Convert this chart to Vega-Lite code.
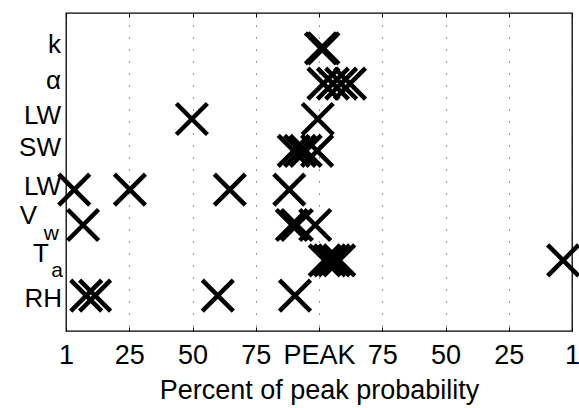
{
  "$schema": "https://vega.github.io/schema/vega-lite/v6.json",
  "width": 506,
  "height": 318,
  "autosize": "none",
  "padding": {"left": 66, "top": 13, "right": 7, "bottom": 77},
  "background": "white",
  "config": {"view": {"stroke": "black", "strokeWidth": 1.3}, "font": "Liberation Sans"},
  "datasets": {
    "points": [
      {"variable": "k", "row": 8, "pos": 4.03},
      {"variable": "k", "row": 8, "pos": 4.07},
      {"variable": "alpha", "row": 7, "pos": 4.07},
      {"variable": "alpha", "row": 7, "pos": 4.22},
      {"variable": "alpha", "row": 7, "pos": 4.35},
      {"variable": "alpha", "row": 7, "pos": 4.49},
      {"variable": "LW (upper)", "row": 6, "pos": 1.99},
      {"variable": "LW (upper)", "row": 6, "pos": 3.98},
      {"variable": "SW", "row": 5.1, "pos": 3.6},
      {"variable": "SW", "row": 5.1, "pos": 3.7},
      {"variable": "SW", "row": 5.1, "pos": 3.79},
      {"variable": "SW", "row": 5.1, "pos": 3.97},
      {"variable": "LW (lower)", "row": 4, "pos": 0.13},
      {"variable": "LW (lower)", "row": 4, "pos": 1.01},
      {"variable": "LW (lower)", "row": 4, "pos": 2.59},
      {"variable": "LW (lower)", "row": 4, "pos": 3.53},
      {"variable": "Vw", "row": 3, "pos": 0.27},
      {"variable": "Vw", "row": 3, "pos": 3.57},
      {"variable": "Vw", "row": 3, "pos": 3.65},
      {"variable": "Vw", "row": 3, "pos": 3.94},
      {"variable": "Ta", "row": 2, "pos": 4.09},
      {"variable": "Ta", "row": 2, "pos": 4.17},
      {"variable": "Ta", "row": 2, "pos": 4.24},
      {"variable": "Ta", "row": 2, "pos": 4.32},
      {"variable": "Ta", "row": 2, "pos": 7.86},
      {"variable": "RH", "row": 1, "pos": 0.32},
      {"variable": "RH", "row": 1, "pos": 0.46},
      {"variable": "RH", "row": 1, "pos": 2.4},
      {"variable": "RH", "row": 1, "pos": 3.62}
    ],
    "labels": [
      {"label": "k", "row": 8},
      {"label": "α", "row": 7},
      {"label": "LW", "row": 6},
      {"label": "SW", "row": 5.1},
      {"label": "LW", "row": 4}
    ]
  },
  "layer": [
    {
      "data": {"name": "points"},
      "mark": {"type": "point", "shape": "M-1,-1L1,1M-1,1L1,-1", "size": 961, "strokeWidth": 4.5, "color": "black", "filled": false, "opacity": 1, "strokeCap": "butt"},
      "encoding": {
        "x": {
          "field": "pos", "type": "quantitative",
          "scale": {"domain": [0, 8], "nice": false, "zero": false},
          "axis": {
            "orient": "bottom",
            "values": [0, 1, 2, 3, 4, 5, 6, 7, 8],
            "labelExpr": "['1','25','50','75','PEAK','75','50','25','1'][datum.value]",
            "title": "Percent of peak probability",
            "grid": true, "gridDash": [1, 11], "gridColor": "#333", "gridWidth": 1, "gridOpacity": 1,
            "tickSize": -4, "tickColor": "black", "tickWidth": 1, "domain": false,
            "labelFontSize": 27, "labelColor": "black", "labelPadding": 15, "labelFont": "Liberation Sans", "labelFlush": false,
            "titleFontSize": 27, "titleFontWeight": "normal", "titleColor": "black", "titlePadding": 9, "titleFont": "Liberation Sans"
          }
        },
        "y": {"field": "row", "type": "quantitative", "scale": {"domain": [0, 9], "nice": false, "zero": false}, "axis": null}
      }
    },
    {
      "data": {"name": "points"},
      "mark": {"type": "point", "opacity": 0},
      "encoding": {
        "x": {
          "field": "pos", "type": "quantitative",
          "axis": {"orient": "top", "values": [0, 1, 2, 3, 4, 5, 6, 7, 8], "labels": false, "title": null, "grid": false, "tickSize": -4, "tickColor": "black", "domain": false}
        },
        "y": {"field": "row", "type": "quantitative", "axis": null}
      }
    },
    {
      "mark": {"type": "rule", "color": "black", "strokeWidth": 1.3},
      "encoding": {
        "x": {"datum": -0.9, "type": "quantitative", "axis": null},
        "x2": {"datum": 8.2},
        "y": {"datum": 4.69, "type": "quantitative", "axis": null}
      }
    },
    {
      "data": {"name": "labels"},
      "mark": {"type": "text", "align": "right", "baseline": "middle", "dx": -5, "dy": -3, "fontSize": 26, "font": "Liberation Sans", "color": "black"},
      "encoding": {
        "x": {"datum": 0, "type": "quantitative", "axis": null},
        "y": {"field": "row", "type": "quantitative", "axis": null},
        "text": {"field": "label"}
      }
    },
    {
      "data": {"values": [{"label": "RH", "row": 1}]},
      "mark": {"type": "text", "align": "right", "baseline": "middle", "dx": -4, "dy": 3, "fontSize": 26, "font": "Liberation Sans", "color": "black"},
      "encoding": {
        "x": {"datum": 0, "type": "quantitative", "axis": null},
        "y": {"field": "row", "type": "quantitative", "axis": null},
        "text": {"field": "label"}
      }
    },
    {
      "data": {"values": [{"label": "V", "row": 3}]},
      "mark": {"type": "text", "align": "right", "baseline": "middle", "dx": -29, "dy": -9, "fontSize": 26, "font": "Liberation Sans", "color": "black"},
      "encoding": {
        "x": {"datum": 0, "type": "quantitative", "axis": null},
        "y": {"field": "row", "type": "quantitative", "axis": null},
        "text": {"field": "label"}
      }
    },
    {
      "data": {"values": [{"label": "w", "row": 3}]},
      "mark": {"type": "text", "align": "right", "baseline": "middle", "dx": -7, "dy": 9, "fontSize": 21, "font": "Liberation Sans", "color": "black"},
      "encoding": {
        "x": {"datum": 0, "type": "quantitative", "axis": null},
        "y": {"field": "row", "type": "quantitative", "axis": null},
        "text": {"field": "label"}
      }
    },
    {
      "data": {"values": [{"label": "T", "row": 2}]},
      "mark": {"type": "text", "align": "right", "baseline": "middle", "dx": -17, "dy": -6, "fontSize": 26, "font": "Liberation Sans", "color": "black"},
      "encoding": {
        "x": {"datum": 0, "type": "quantitative", "axis": null},
        "y": {"field": "row", "type": "quantitative", "axis": null},
        "text": {"field": "label"}
      }
    },
    {
      "data": {"values": [{"label": "a", "row": 2}]},
      "mark": {"type": "text", "align": "right", "baseline": "middle", "dx": -3, "dy": 11, "fontSize": 21, "font": "Liberation Sans", "color": "black"},
      "encoding": {
        "x": {"datum": 0, "type": "quantitative", "axis": null},
        "y": {"field": "row", "type": "quantitative", "axis": null},
        "text": {"field": "label"}
      }
    }
  ],
  "resolve": {"axis": {"x": "independent"}}
}
